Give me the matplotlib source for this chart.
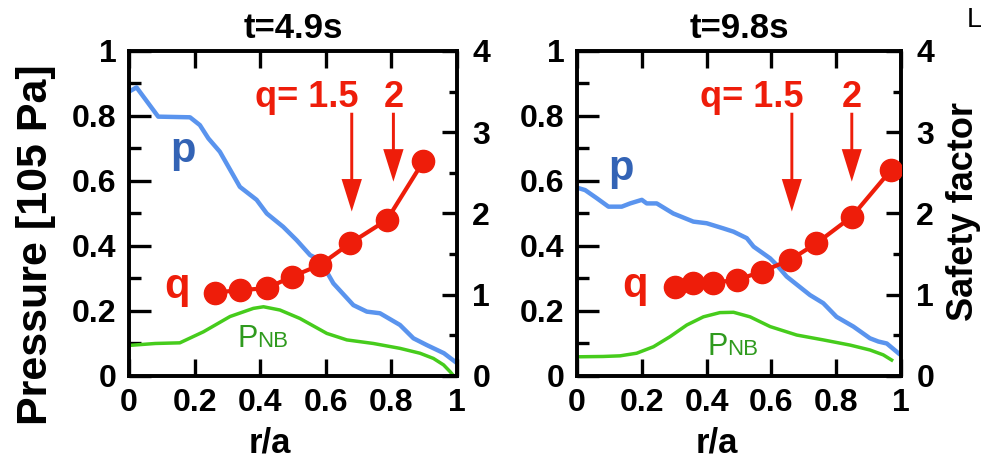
import matplotlib
matplotlib.use('Agg')
import matplotlib.pyplot as plt
from matplotlib.ticker import MultipleLocator, FuncFormatter

plt.rcParams['font.family'] = ['Liberation Sans', 'DejaVu Sans']
plt.rcParams['font.weight'] = 'bold'

# panel titles
titles = ['t=4.9s', 't=9.8s']

# pressure profiles (10^5 Pa)
r_p1 = [0.0, 0.023, 0.089, 0.186, 0.216, 0.242, 0.277, 0.338, 0.389, 0.42, 0.47, 0.511,
        0.552, 0.582, 0.623, 0.684, 0.725, 0.765, 0.826, 0.867, 0.908, 0.96, 0.994]
p1 = [0.875, 0.888, 0.798, 0.796, 0.772, 0.731, 0.690, 0.582, 0.542, 0.50, 0.459, 0.418,
      0.372, 0.357, 0.285, 0.218, 0.198, 0.193, 0.157, 0.116, 0.095, 0.07, 0.044]
r_p2 = [0.005, 0.025, 0.061, 0.097, 0.138, 0.164, 0.2, 0.215, 0.246, 0.297, 0.359, 0.40,
        0.452, 0.483, 0.524, 0.545, 0.596, 0.616, 0.647, 0.719, 0.76, 0.801, 0.853, 0.904,
        0.93, 0.956, 0.992]
p2 = [0.578, 0.572, 0.547, 0.521, 0.521, 0.531, 0.542, 0.531, 0.531, 0.50, 0.475, 0.47,
      0.454, 0.444, 0.424, 0.398, 0.362, 0.342, 0.306, 0.249, 0.224, 0.182, 0.152, 0.116,
      0.106, 0.10, 0.07]

# NB deposited pressure
r_nb1 = [0.0, 0.08, 0.155, 0.227, 0.308, 0.379, 0.41, 0.46, 0.521, 0.603, 0.664, 0.745,
         0.826, 0.887, 0.928, 0.959, 0.979, 0.99]
nb1 = [0.094, 0.10, 0.102, 0.136, 0.183, 0.208, 0.213, 0.203, 0.177, 0.131, 0.111, 0.10,
       0.085, 0.07, 0.054, 0.034, 0.013, 0.0]
r_nb2 = [0.0, 0.08, 0.133, 0.184, 0.236, 0.287, 0.339, 0.39, 0.441, 0.483, 0.534, 0.596,
         0.678, 0.76, 0.843, 0.904, 0.945, 0.971]
nb2 = [0.059, 0.06, 0.062, 0.07, 0.09, 0.121, 0.157, 0.182, 0.195, 0.196, 0.182, 0.152,
       0.126, 0.111, 0.095, 0.08, 0.065, 0.049]

# safety factor
r_q1 = [0.262, 0.338, 0.42, 0.496, 0.582, 0.674, 0.786, 0.897]
q1 = [1.025, 1.058, 1.079, 1.222, 1.366, 1.633, 1.92, 2.64]
r_q2 = [0.302, 0.359, 0.421, 0.493, 0.57, 0.657, 0.739, 0.848, 0.969]
q2 = [1.099, 1.14, 1.149, 1.182, 1.284, 1.428, 1.633, 1.961, 2.535]

# rational surface positions (q=1.5, q=2)
arrows1 = [0.679, 0.806]
arrows2 = [0.663, 0.848]

BLUE = '#5A94EE'
BLUE_TXT = '#3363B5'
RED = '#EE1D0A'
GREEN = '#46CC1C'
GREEN_TXT = '#2F9A1E'

fmt = FuncFormatter(lambda v, pos: '%g' % v)


def panel(rect, title, r_p, p, r_nb, nb, r_q, q, arr, lab):
    ax = fig.add_axes(rect)
    ax2 = ax.twinx()
    ax.set_xlim(0, 1)
    ax.set_ylim(0, 1)
    ax2.set_ylim(0, 4)

    ax.plot(r_p, p, color=BLUE, lw=3.2, zorder=2)
    ax.plot(r_nb, nb, color=GREEN, lw=2.5, zorder=2)
    ax2.plot(r_q, q, color=RED, lw=3, marker='o', ms=16, zorder=3)

    # arrows at q=1.5 and q=2
    tips = [0.506, 0.598]
    for x, tip in zip(arr, tips):
        ax.arrow(x, 0.81, 0, tip - 0.81, width=0.009, head_width=0.062,
                 head_length=0.10, length_includes_head=True, color=RED, lw=0)
    ax.text(0.70, 0.828, 'q= 1.5', color=RED, fontsize=26, ha='right', va='baseline')
    ax.text(arr[1], 0.828, '2', color=RED, fontsize=26, ha='center', va='baseline')

    ax.text(lab['p'][0], lab['p'][1], 'p', color=BLUE_TXT, fontsize=30,
            ha='center', va='baseline')
    ax.text(lab['q'][0], lab['q'][1], 'q', color=RED, fontsize=30,
            ha='center', va='baseline')
    ax.text(lab['P'][0], lab['P'][1], 'P', color=GREEN_TXT, fontsize=22,
            fontweight='normal', ha='left', va='baseline')
    ax.text(lab['P'][0] + 0.058, lab['P'][1], 'NB', color=GREEN_TXT, fontsize=16,
            fontweight='normal', ha='left', va='baseline')

    ax.xaxis.set_major_locator(MultipleLocator(0.2))
    ax.yaxis.set_major_locator(MultipleLocator(0.2))
    ax.yaxis.set_minor_locator(MultipleLocator(0.1))
    ax2.yaxis.set_major_locator(MultipleLocator(1))
    ax2.yaxis.set_minor_locator(MultipleLocator(0.5))
    ax.xaxis.set_major_formatter(fmt)
    ax.yaxis.set_major_formatter(fmt)
    ax2.yaxis.set_major_formatter(fmt)

    ax.tick_params(axis='x', which='major', direction='in', top=True, length=12,
                   width=2.4, labelsize=23, pad=9)
    ax.tick_params(axis='y', which='major', direction='in', right=False, length=16,
                   width=2.4, labelsize=23, pad=9)
    ax.tick_params(axis='y', which='minor', direction='in', right=False, length=8.5,
                   width=2.4)
    ax2.tick_params(axis='y', which='major', direction='in', length=11, width=2.4,
                    labelsize=23, pad=11)
    ax2.tick_params(axis='y', which='minor', direction='in', length=6, width=2.4)
    for a in (ax, ax2):
        for s in a.spines.values():
            s.set_linewidth(2.6)

    ax.set_title(title, fontsize=25, fontweight='bold', pad=9)
    ax.set_xlabel('r/a', fontsize=25, fontweight='bold')
    ax.xaxis.set_label_coords(0.43, -0.154)
    return ax, ax2


fig = plt.figure(figsize=(9.81, 4.67), dpi=100)

panel([0.1315, 0.1949, 0.3344, 0.6959], titles[0], r_p1, p1, r_nb1, nb1, r_q1, q1,
      arrows1, {'p': (0.165, 0.658), 'q': (0.145, 0.24), 'P': (0.332, 0.09)})
panel([0.5882, 0.1949, 0.3303, 0.6959], titles[1], r_p2, p2, r_nb2, nb2, r_q2, q2,
      arrows2, {'p': (0.137, 0.603), 'q': (0.179, 0.243), 'P': (0.404, 0.065)})

fig.text(0.037, 0.4754, 'Pressure [105 Pa]', rotation=90, ha='center', va='center',
         fontsize=31, fontweight='bold')
fig.text(0.982, 0.548, 'Safety factor', rotation=90, ha='center', va='center',
         fontsize=26, fontweight='bold')
fig.text(0.985, 0.985, 'L', ha='left', va='top', fontsize=20, fontweight='normal')

fig.savefig('out.png', dpi=100)
